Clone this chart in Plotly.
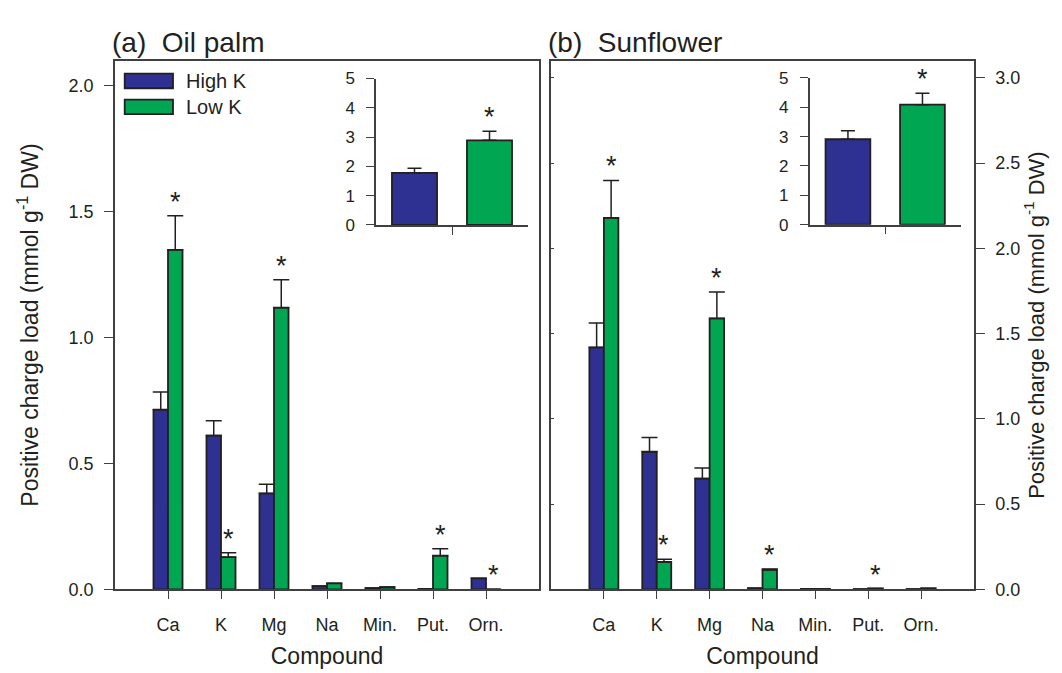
import plotly.graph_objects as go

# ---------------- data ----------------
categories = ["Ca", "K", "Mg", "Na", "Min.", "Put.", "Orn."]
series_names = ["High K", "Low K"]

oil_high = [0.714, 0.611, 0.381, 0.013, 0.005, 0.002, 0.044]
oil_high_se = [0.070, 0.059, 0.037, None, None, None, None]
oil_low = [1.349, 0.128, 1.119, 0.024, 0.009, 0.134, 0.0]
oil_low_se = [0.135, 0.017, 0.111, None, None, 0.027, None]
oil_low_sig = [True, True, True, False, False, True, True]

sun_high = [1.419, 0.807, 0.650, 0.007, 0.003, 0.002, 0.002]
sun_high_se = [0.143, 0.083, 0.062, None, None, None, None]
sun_low = [2.178, 0.161, 1.589, 0.115, 0.003, 0.005, 0.006]
sun_low_se = [0.220, 0.015, 0.155, 0.005, None, None, None]
sun_low_sig = [True, True, True, True, False, True, False]

inset_category = ["Total"]
oil_total_high, oil_total_high_se = [1.78], [0.16]
oil_total_low, oil_total_low_se = [2.89], [0.31]
sun_total_high, sun_total_high_se = [2.91], [0.29]
sun_total_low, sun_total_low_se = [4.09], [0.39]
total_low_sig = [True]

main_ticks_oil = [0.0, 0.5, 1.0, 1.5, 2.0]
main_ticks_sun = [0.0, 0.5, 1.0, 1.5, 2.0, 2.5, 3.0]
inset_ticks = [0, 1, 2, 3, 4, 5]

# ---------------- style ----------------
W, H = 1062, 673
BLUE = "#2E3192"
GREEN = "#00A651"
INK = "#231F20"
AX = "#404040"
FONT = "Liberation Sans, Arial, sans-serif"


def px(x):
    return x / W


def py(y):
    return 1 - y / H


fig = go.Figure()

BW = 0.274  # bar width in category units


def add_pair(xs, hi, hi_se, lo, lo_se, xa, ya, off_hi, off_lo, bw, ew):
    for vals, se, col, name, off in [
        (hi, hi_se, BLUE, series_names[0], off_hi),
        (lo, lo_se, GREEN, series_names[1], off_lo),
    ]:
        fig.add_trace(go.Bar(
            x=xs, y=vals, name=name, showlegend=False,
            offset=off, width=bw,
            marker=dict(color=col, line=dict(color=INK, width=1.8)),
            error_y=dict(type="data", symmetric=False, array=se,
                         arrayminus=[0] * len(vals), color=INK,
                         thickness=1.5, width=ew),
            xaxis=xa, yaxis=ya,
        ))


add_pair(categories, oil_high, oil_high_se, oil_low, oil_low_se, "x", "y", -BW, 0.0, BW, 8)
add_pair(categories, sun_high, sun_high_se, sun_low, sun_low_se, "x2", "y2", -BW, 0.0, BW, 8)
IBW = 0.593
add_pair(inset_category, oil_total_high, oil_total_high_se, oil_total_low, oil_total_low_se,
         "x3", "y3", -0.79, 0.197, IBW, 7)
add_pair(inset_category, sun_total_high, sun_total_high_se, sun_total_low, sun_total_low_se,
         "x4", "y4", -0.79, 0.197, IBW, 7)

# empty trace so the inner tick axis of panel (b) is drawn
fig.add_trace(go.Scatter(x=[], y=[], xaxis="x2", yaxis="y5", showlegend=False,
                         hoverinfo="skip"))

# ---------------- axes ----------------
tickfont = dict(family=FONT, size=18, color=INK)
titlefont = dict(family=FONT, size=23, color=INK)
ytitle = "Positive charge load (mmol g<sup>-1</sup> DW)"

main_x = dict(type="category", categoryorder="array", categoryarray=categories,
              range=[-1, 7], showline=True, linecolor=AX, linewidth=1.5, mirror=True,
              ticks="outside", ticklen=8, tickwidth=1.2, tickcolor=AX,
              tickfont=tickfont, ticklabelstandoff=10, showgrid=False, zeroline=False,
              title=dict(text="Compound", font=titlefont, standoff=14))
main_y = dict(showline=True, linecolor=AX, linewidth=1.5, mirror=True,
              ticks="outside", ticklen=9, tickwidth=1.2, tickcolor=AX,
              tickfont=tickfont, tickformat=".1f", showgrid=False, zeroline=False,
              ticklabelstandoff=7)

inset_x = dict(type="category", range=[-1, 1], showline=True, linecolor=AX, linewidth=1.5,
               ticks="outside", ticklen=8, tickwidth=1.2, tickcolor=AX,
               showticklabels=False, showgrid=False, zeroline=False)
inset_y = dict(range=[0, 5], tickvals=inset_ticks, showline=True, linecolor=AX, linewidth=1.5,
               ticks="outside", ticklen=8, tickwidth=1.2, tickcolor=AX,
               tickfont=dict(family=FONT, size=17, color=INK), showgrid=False, zeroline=False,
               ticklabelstandoff=8)

fig.update_layout(
    width=W, height=H,
    margin=dict(l=0, r=0, t=0, b=0),
    paper_bgcolor="white", plot_bgcolor="white",
    barmode="overlay",
    showlegend=False,
    font=dict(family=FONT, color=INK),
    xaxis=dict(main_x, domain=[px(107), px(531)], anchor="y"),
    yaxis=dict(main_y, domain=[py(589), py(45)], anchor="x", range=[0, 2.1],
               tickvals=main_ticks_oil,
               title=dict(text=ytitle, font=titlefont, standoff=24)),
    xaxis2=dict(main_x, domain=[px(543), px(966)], anchor="y2"),
    yaxis2=dict(main_y, domain=[py(589), py(45)], anchor="x2", range=[0, 3.1],
                tickvals=main_ticks_sun, side="right",
                title=dict(text=ytitle, font=dict(titlefont, size=22), standoff=8)),
    yaxis5=dict(overlaying="y2", anchor="x2", side="left", range=[0, 3.1],
                tickvals=main_ticks_sun, ticks="inside", ticklen=3, tickcolor=AX,
                showticklabels=False, showline=False, showgrid=False, zeroline=False),
    xaxis3=dict(inset_x, domain=[px(368), px(520)], anchor="y3"),
    yaxis3=dict(inset_y, domain=[py(214), py(63.3)], anchor="x3"),
    xaxis4=dict(inset_x, domain=[px(801.7), px(952.7)], anchor="y4"),
    yaxis4=dict(inset_y, domain=[py(213.7), py(62.7)], anchor="x4"),
)

# ---------------- significance stars ----------------
ann = []


def stars(vals, se, sig, xref, yref, xoff):
    for i, (v, s, g) in enumerate(zip(vals, se, sig)):
        if g:
            ann.append(dict(x=i + xoff, y=v + (s or 0), xref=xref, yref=yref,
                            text="*", showarrow=False, yanchor="bottom", yshift=-3,
                            font=dict(family=FONT, size=27, color=INK)))


stars(oil_low, oil_low_se, oil_low_sig, "x", "y", BW / 2)
stars(sun_low, sun_low_se, sun_low_sig, "x2", "y2", BW / 2)
stars(oil_total_low, oil_total_low_se, total_low_sig, "x3", "y3", 0.197 + IBW / 2)
stars(sun_total_low, sun_total_low_se, total_low_sig, "x4", "y4", 0.197 + IBW / 2)

# ---------------- panel titles ----------------
ann.append(dict(x=px(102), y=py(26), xref="paper", yref="paper", xanchor="left",
                yanchor="middle", showarrow=False, text="(a)\u00a0\u00a0Oil palm",
                font=dict(family=FONT, size=28, color=INK)))
ann.append(dict(x=px(538), y=py(26), xref="paper", yref="paper", xanchor="left",
                yanchor="middle", showarrow=False, text="(b)\u00a0\u00a0Sunflower",
                font=dict(family=FONT, size=28, color=INK)))

# ---------------- legend (drawn in panel a) ----------------
shapes = []
for (y0, y1), col, name in [((58.3, 73.3), BLUE, series_names[0]),
                            ((85, 100), GREEN, series_names[1])]:
    shapes.append(dict(type="rect", xref="paper", yref="paper",
                       x0=px(116.7), x1=px(165), y0=py(y1), y1=py(y0),
                       fillcolor=col, line=dict(color=INK, width=1.8)))
    ann.append(dict(x=px(176), y=py((y0 + y1) / 2), xref="paper", yref="paper",
                    xanchor="left", yanchor="middle", showarrow=False, text=name,
                    font=dict(family=FONT, size=20, color=INK)))

fig.update_layout(annotations=ann, shapes=shapes)

fig.write_html("out.html")
